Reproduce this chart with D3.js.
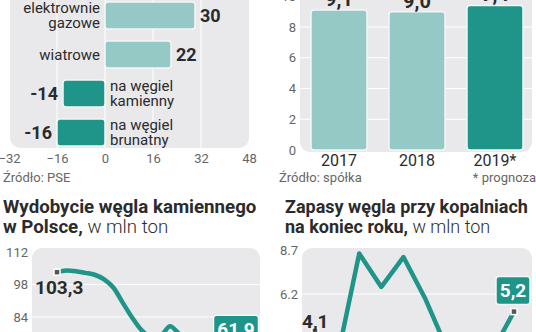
<!DOCTYPE html>
<html>
<head>
<meta charset="utf-8">
<script src="https://cdn.jsdelivr.net/npm/d3@7"></script>
<style>
  html, body { margin: 0; padding: 0; background: #fff; }
  svg { display: block; }
  text { font-family: Roboto, "Noto Sans", sans-serif; }
</style>
</head>
<body>
<svg id="chart" width="536" height="332"></svg>
<script>
// ---- data ----
const powerCategories = ["elektrownie gazowe", "wiatrowe", "na węgiel kamienny", "na węgiel brunatny"];
const powerChange = [30, 22, -14, -16];
const powerTicks = [-32, -16, 0, 16, 32, 48];

const outputYears = ["2017", "2018", "2019*"];
const outputValues = [9.1, 9.0, 9.4];
const outputTicks = [0, 2, 4, 6, 8, 10];

const miningYears = d3.range(2000, 2020);
const miningValues = [103.3, 104.0, 103.7, 103.0, 102.2, 100.2, 96.6, 90.0, 83.6, 78.2,
                      75.5, 76.0, 80.0, 76.5, 73.0, 72.2, 70.4, 65.5, 63.4, 61.9];
const miningTicks = [70, 84, 98, 112];

const stockYears = d3.range(2010, 2020);
const stockValues = [4.1, 2.5, 8.5, 6.6, 8.3, 5.9, 3.0, 2.2, 2.9, 5.2];
const stockTicks = [1.2, 3.7, 6.2, 8.7];

// ---- styles ----
const C = {
  bg: "#e9e9eb",
  grid: "#ffffff",
  light: "#95c9c6",
  dark: "#1f9488",
  text: "#2b2b2b",
  tick: "#666666"
};
const comma = v => d3.format(".1f")(v).replace(".", ",");

const svg = d3.select("#chart");

// ================= top-left: horizontal bars =================
{
  const x = d3.scaleLinear().domain([-32, 48]).range([9, 249]);
  const y = d3.scaleBand().domain(powerCategories).range([-4, 152])
    .paddingInner(0.3077).paddingOuter(0.154);
  const g = svg.append("g");

  g.append("rect").attr("x", 10).attr("y", -20).attr("width", 239).attr("height", 168)
    .attr("rx", 10).attr("fill", C.bg);

  g.selectAll("line.grid").data([-16, 0, 16, 32]).join("line")
    .attr("x1", d => x(d)).attr("x2", d => x(d))
    .attr("y1", -20).attr("y2", 148)
    .attr("stroke", C.grid).attr("stroke-width", 1);

  const axis = d3.axisBottom(x).tickValues(powerTicks).tickSize(0).tickPadding(0);
  const ax = g.append("g").attr("transform", "translate(0,154)").call(axis);
  ax.select(".domain").remove();
  ax.selectAll("text").attr("fill", C.tick).attr("font-size", 13).attr("dy", "0.71em")
    .attr("font-family", null);

  const rows = g.selectAll("g.row").data(powerCategories.map((c, i) => ({ c, v: powerChange[i] })))
    .join("g").attr("class", "row");

  rows.append("rect")
    .attr("x", d => x(Math.min(0, d.v)))
    .attr("y", d => y(d.c))
    .attr("width", d => Math.abs(x(d.v) - x(0)))
    .attr("height", y.bandwidth())
    .attr("rx", 3)
    .attr("fill", d => d.v > 0 ? C.light : C.dark)
    .attr("stroke", "#f3f6f6").attr("stroke-width", 1.5);

  rows.append("text")
    .attr("x", d => d.v > 0 ? x(d.v) + 5 : x(d.v) - 5)
    .attr("y", d => y(d.c) + y.bandwidth() / 2)
    .attr("dy", "0.36em")
    .attr("text-anchor", d => d.v > 0 ? "start" : "end")
    .attr("font-weight", 700).attr("font-size", 18).attr("fill", C.text)
    .text(d => d.v);

  // two-line category labels, split at the last space
  const lines = s => {
    const k = s.lastIndexOf(" ");
    return k < 0 ? [s] : [s.slice(0, k), s.slice(k + 1)];
  };
  rows.each(function (d) {
    const ls = lines(d.c);
    const t = d3.select(this).append("text")
      .attr("text-anchor", d.v > 0 ? "end" : "start")
      .attr("font-family", "'Noto Sans', sans-serif")
      .attr("font-size", 15).attr("fill", C.text);
    ls.forEach((l, i) => {
      t.append("tspan")
        .attr("x", d.v > 0 ? x(0) - 5 : x(0) + 5)
        .attr("y", y(d.c) + y.bandwidth() / 2 + (i - (ls.length - 1) / 2) * 15)
        .attr("dy", "0.34em")
        .text(l);
    });
  });

  g.append("text").attr("x", 3).attr("y", 182).attr("font-size", 13).attr("fill", C.tick)
    .text("Źródło: PSE");
}

// ================= top-right: vertical bars =================
{
  const x = d3.scaleBand().domain(outputYears).range([300, 534])
    .paddingInner(0.282).paddingOuter(0.141);
  const y = d3.scaleLinear().domain([0, 10]).range([150, -3.75]);
  const g = svg.append("g");

  g.append("rect").attr("x", 300).attr("y", -20).attr("width", 232).attr("height", 172)
    .attr("rx", 10).attr("fill", C.bg);

  g.selectAll("line.grid").data(outputTicks.filter(t => t > 0)).join("line")
    .attr("x1", 300).attr("x2", 532)
    .attr("y1", d => y(d)).attr("y2", d => y(d))
    .attr("stroke", C.grid).attr("stroke-width", 1);

  const ay = g.append("g").attr("transform", "translate(296,0)")
    .call(d3.axisLeft(y).tickValues(outputTicks).tickSize(0).tickPadding(0));
  ay.select(".domain").remove();
  ay.selectAll("text").attr("fill", C.tick).attr("font-size", 13).attr("font-family", null);

  g.selectAll("rect.bar").data(outputYears.map((c, i) => ({ c, v: outputValues[i], i })))
    .join("rect")
    .attr("x", d => x(d.c)).attr("width", x.bandwidth())
    .attr("y", d => y(d.v)).attr("height", d => y(0) - y(d.v))
    .attr("rx", 3)
    .attr("fill", d => d.i === outputYears.length - 1 ? C.dark : C.light)
    .attr("stroke", "#f3f6f6").attr("stroke-width", 1.5);

  g.selectAll("text.val").data(outputYears.map((c, i) => ({ c, v: outputValues[i] })))
    .join("text")
    .attr("x", d => x(d.c) + x.bandwidth() / 2)
    .attr("y", d => y(d.v) - 4)
    .attr("text-anchor", "middle")
    .attr("font-weight", 700).attr("font-size", 20).attr("fill", C.text)
    .text(d => comma(d.v));

  const ax = g.append("g").attr("transform", "translate(0,155)")
    .call(d3.axisBottom(x).tickSize(0).tickPadding(0));
  ax.select(".domain").remove();
  ax.selectAll("text").attr("fill", C.text).attr("font-size", 16).attr("font-family", null)
    .attr("dy", "0.71em");

  g.append("text").attr("x", 279).attr("y", 182).attr("font-size", 13).attr("fill", C.tick)
    .text("Źródło: spółka");
  g.append("text").attr("x", 536).attr("y", 182).attr("text-anchor", "end")
    .attr("font-size", 13).attr("fill", C.tick).text("* prognoza");
}

// ---- shared helpers for the line panels ----
function title(g, x0, size, bold1, bold2, rest) {
  g.append("text").attr("x", x0).attr("y", 213).attr("font-size", size).attr("font-weight", 700)
    .attr("fill", C.text).text(bold1);
  const t = g.append("text").attr("x", x0).attr("y", 233).attr("font-size", size).attr("fill", C.text);
  t.append("tspan").attr("font-weight", 700).text(bold2);
  t.append("tspan").attr("font-weight", 300).text(rest);
}
function marker(g, px, py) {
  g.append("rect").attr("x", px - 3).attr("y", py - 3).attr("width", 6).attr("height", 6)
    .attr("fill", "#555").attr("stroke", "#fff").attr("stroke-width", 1.5);
}
function valueBox(g, cx, top, w, label) {
  g.append("rect").attr("x", cx - w / 2).attr("y", top).attr("width", w).attr("height", 28)
    .attr("rx", 3).attr("fill", C.dark).attr("stroke", "#f3f6f6").attr("stroke-width", 1.5);
  g.append("text").attr("x", cx).attr("y", top + 14).attr("dy", "0.36em")
    .attr("text-anchor", "middle").attr("font-size", 19).attr("font-weight", 700)
    .attr("fill", "#fff").text(label);
}

// ================= bottom-left: hard coal output =================
{
  const x = d3.scaleLinear().domain([2000, 2019]).range([57, 236]);
  const y = d3.scaleLinear().domain([84, 112]).range([317, 252]);
  const g = svg.append("g");

  title(g, 3, 18.7, "Wydobycie węgla kamiennego", "w Polsce,", " w mln ton");

  g.append("rect").attr("x", 32).attr("y", 248).attr("width", 228).attr("height", 130)
    .attr("rx", 10).attr("fill", C.bg);

  g.selectAll("line.grid").data(miningTicks.filter(t => t < 112)).join("line")
    .attr("x1", 32).attr("x2", 260)
    .attr("y1", d => y(d)).attr("y2", d => y(d))
    .attr("stroke", C.grid).attr("stroke-width", 1);

  const ay = g.append("g").attr("transform", "translate(28,0)")
    .call(d3.axisLeft(y).tickValues(miningTicks).tickSize(0).tickPadding(0));
  ay.select(".domain").remove();
  ay.selectAll("text").attr("fill", C.tick).attr("font-size", 13).attr("font-family", null);

  const line = d3.line().x((d, i) => x(miningYears[i])).y(d => y(d)).curve(d3.curveMonotoneX);
  g.append("path").datum(miningValues).attr("d", line)
    .attr("fill", "none").attr("stroke", C.dark).attr("stroke-width", 4.5)
    .attr("stroke-linejoin", "round").attr("stroke-linecap", "round");

  marker(g, x(miningYears[0]), y(miningValues[0]));
  g.append("text").attr("x", 35).attr("y", y(miningValues[0]) + 22)
    .attr("font-size", 19).attr("font-weight", 700).attr("fill", C.text)
    .text(comma(miningValues[0]));

  const n = miningValues.length - 1;
  marker(g, x(miningYears[n]), y(miningValues[n]));
  valueBox(g, x(miningYears[n]), y(miningValues[n]) - 53, 45, comma(miningValues[n]));
}

// ================= bottom-right: coal stocks at mines =================
{
  const x = d3.scaleLinear().domain([2010, 2019]).range([315, 514]);
  const y = d3.scaleLinear().domain([6.2, 8.7]).range([294, 250]);
  const g = svg.append("g");

  title(g, 285, 18, "Zapasy węgla przy kopalniach", "na koniec roku,", " w mln ton");

  g.append("rect").attr("x", 302).attr("y", 248).attr("width", 230).attr("height", 130)
    .attr("rx", 10).attr("fill", C.bg);

  g.selectAll("line.grid").data(stockTicks.filter(t => t < 8.7)).join("line")
    .attr("x1", 302).attr("x2", 532)
    .attr("y1", d => y(d)).attr("y2", d => y(d))
    .attr("stroke", C.grid).attr("stroke-width", 1);

  const ay = g.append("g").attr("transform", "translate(280,0)")
    .call(d3.axisRight(y).tickValues(stockTicks).tickSize(0).tickPadding(0)
      .tickFormat(d3.format(".1f")));
  ay.select(".domain").remove();
  ay.selectAll("text").attr("fill", C.tick).attr("font-size", 13).attr("font-family", null);

  const line = d3.line().x((d, i) => x(stockYears[i])).y(d => y(d));
  g.append("path").datum(stockValues).attr("d", line)
    .attr("fill", "none").attr("stroke", C.dark).attr("stroke-width", 4.5)
    .attr("stroke-linejoin", "round").attr("stroke-linecap", "round");

  marker(g, x(stockYears[0]), y(stockValues[0]));
  g.append("text").attr("x", 302).attr("y", y(stockValues[0]) - 3)
    .attr("font-size", 19).attr("font-weight", 700).attr("fill", C.text)
    .text(comma(stockValues[0]));

  const n = stockValues.length - 1;
  marker(g, x(stockYears[n]), y(stockValues[n]));
  valueBox(g, 513, y(stockValues[n]) - 35, 34, comma(stockValues[n]));
}
</script>
</body>
</html>
